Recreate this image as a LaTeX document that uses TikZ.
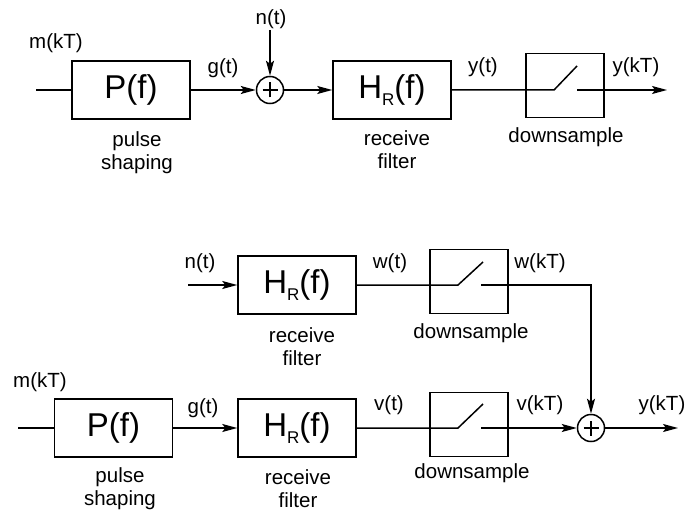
\documentclass[tikz,border=0pt]{standalone}
\usepackage{fontspec}
\setmainfont{Liberation Sans}
\usetikzlibrary{positioning,arrows.meta}

\newcommand{\HRf}{H\raisebox{-7pt}{\fontsize{17}{17}\selectfont R}(f)}

\begin{document}
\begin{tikzpicture}[
  x=1pt,y=-1pt,
  line width=1.5pt,
  box/.style={draw,minimum width=118pt,minimum height=58pt,inner sep=0pt,font=\fontsize{33}{36}\selectfont},
  dsbox/.style={draw,minimum width=78pt,minimum height=64pt,inner sep=0pt},
  sumnode/.style={draw,circle,minimum size=27pt,inner sep=0pt,
    path picture={\draw[line width=2pt] ([xshift=-7.5pt]path picture bounding box.center) -- ++(15pt,0)
      ([yshift=-7.5pt]path picture bounding box.center) -- ++(0,15pt);}},
  lbl/.style={inner sep=0pt,font=\fontsize{20.5}{23}\selectfont,align=center},
  >={Stealth[length=15pt,width=8pt,inset=3pt]}]
\useasboundingbox (0,0) rectangle (687,513);

% top: pulse shaping, noise, receive filter, downsample
\coordinate (cin1) at (36,90);
\node[box] (pf1) at (131,90) {P(f)};
\node[sumnode] (sum1) at (270,90) {};
\coordinate (nin1) at (270,30);
\node[box] (hr1) at (392,90) {\HRf};
\node[dsbox] (ds1) at (565,85.5) {};
\coordinate (sw1a) at (554,90); \coordinate (sw1b) at (577,66);
\coordinate (sw1c) at (577,90); \coordinate (yout1) at (667,90);
\node[lbl] (m1) at (56,43) {m(kT)};
\node[lbl] (g1) at (223,68) {g(t)};
\node[lbl] (n1) at (271,19) {n(t)};
\node[lbl] (y1) at (483,67) {y(t)};
\node[lbl] (yk1) at (636,67) {y(kT)};
\node[lbl] (pl1) at (137,153) {pulse\\shaping};
\node[lbl] (rl1) at (397,150) {receive\\filter};
\node[lbl] (dl1) at (566,137) {downsample};
\draw (cin1) -- (pf1);
\draw[->] (pf1) -- (sum1);
\draw[->] (nin1) -- (sum1);
\draw[->] (sum1) -- (hr1);
\draw (hr1) -- (sw1a) -- (sw1b);
\draw[->] (sw1c) -- (yout1);

% bottom: noise path
\coordinate (nin2) at (188,285);
\node[box] (hr2) at (297,285) {\HRf};
\node[dsbox] (ds2) at (469,281.5) {};
\coordinate (sw2a) at (458,285); \coordinate (sw2b) at (483,262);
\coordinate (sw2c) at (481,285);
\node[lbl] (n2) at (200,263) {n(t)};
\node[lbl] (w2) at (390,263) {w(t)};
\node[lbl] (wk2) at (540,263) {w(kT)};
\node[lbl] (rl2) at (302,347) {receive\\filter};
\node[lbl] (dl2) at (471,333) {downsample};

% bottom: signal path
\coordinate (cin3) at (18,428);
\node[box] (pf2) at (113.5,428) {P(f)};
\node[box] (hr3) at (297,428) {\HRf};
\node[dsbox] (ds3) at (469,424.5) {};
\coordinate (sw3a) at (458,428); \coordinate (sw3b) at (483,404);
\coordinate (sw3c) at (481,428);
\node[sumnode] (sum2) at (591,428) {};
\coordinate (yout2) at (678,428);
\node[lbl] (m3) at (40,382) {m(kT)};
\node[lbl] (g3) at (203,408) {g(t)};
\node[lbl] (v3) at (389,405) {v(t)};
\node[lbl] (vk3) at (540,405) {v(kT)};
\node[lbl] (yk3) at (662,405) {y(kT)};
\node[lbl] (pl3) at (120,489) {pulse\\shaping};
\node[lbl] (rl3) at (298,489) {receive\\filter};
\node[lbl] (dl3) at (472,473) {downsample};

\draw[->] (nin2) -- (hr2);
\draw (hr2) -- (sw2a) -- (sw2b);
\draw[->] (sw2c) -| (sum2);
\draw (cin3) -- (pf2);
\draw[->] (pf2) -- (hr3);
\draw (hr3) -- (sw3a) -- (sw3b);
\draw[->] (sw3c) -- (sum2);
\draw[->] (sum2) -- (yout2);
\end{tikzpicture}
\end{document}
